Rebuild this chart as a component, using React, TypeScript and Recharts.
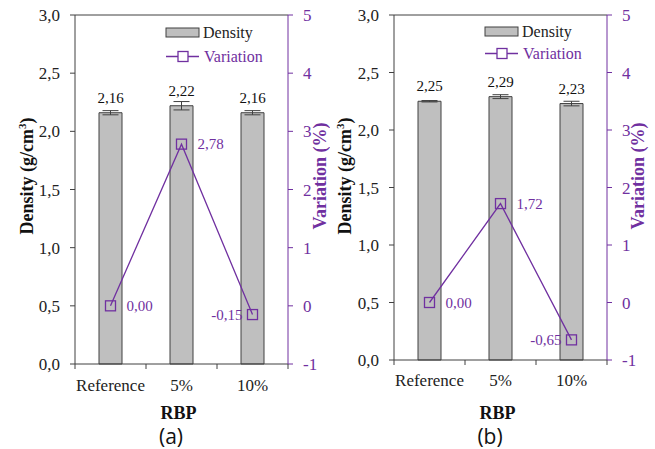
import React from 'react';
import {
  ComposedChart,
  Bar,
  Line,
  XAxis,
  YAxis,
  ErrorBar,
  LabelList,
  Legend,
  ReferenceLine,
} from 'recharts';

// categories on the x axis (RBP content)
const categories = ['Reference', '5%', '10%'];

// panel (a)
const densityA = [2.16, 2.22, 2.16];
const densityErrA = [0.018, 0.036, 0.018];
const variationA = [0.0, 2.78, -0.15];

// panel (b)
const densityB = [2.25, 2.29, 2.23];
const densityErrB = [0.006, 0.017, 0.02];
const variationB = [0.0, 1.72, -0.65];

// axis ticks
const densityTicks = [0, 0.5, 1, 1.5, 2, 2.5, 3];
const variationTicks = [-1, 0, 1, 2, 3, 4, 5];
const densityMinor = Array.from({ length: 31 }, (_, i) => i / 10);
const variationMinor = Array.from({ length: 31 }, (_, i) => -1 + i / 5);

const PURPLE = '#7030A0';
const AXIS = '#404040';
const SERIF = "'Liberation Serif', 'Times New Roman', Times, serif";
const SANS = "'Open Sans', 'DejaVu Sans', sans-serif";

const comma = (v: number, digits: number) => v.toFixed(digits).replace('.', ',');

function CategoryTick(props: any) {
  const { x, y, payload, labelDy } = props;
  const half = payload.offset ?? 35.5;
  const isLast = payload.value === categories[categories.length - 1];
  return (
    <g>
      <line x1={x - half} x2={x - half} y1={y} y2={y + 5} stroke={AXIS} />
      {isLast && <line x1={x + half} x2={x + half} y1={y} y2={y + 5} stroke={AXIS} />}
      <text x={x} y={y + labelDy} textAnchor="middle" fill="#222" style={{ fontFamily: SERIF, fontSize: 17 }}>
        {payload.value}
      </text>
    </g>
  );
}

function LegendBox({ lineGap }: { lineGap: number }) {
  return (
    <svg width={140} height={50} style={{ overflow: 'visible', fontFamily: SERIF, fontSize: 16 }}>
      <rect x={6} y={8} width={33} height={9} fill="#bfbfbf" stroke={AXIS} />
      <text x={43} y={18} fill="#222">Density</text>
      <line x1={6} x2={39} y1={12.5 + lineGap} y2={12.5 + lineGap} stroke={PURPLE} strokeWidth={1.3} />
      <rect x={18} y={7.5 + lineGap} width={10} height={10} fill="#fff" stroke={PURPLE} strokeWidth={1.3} />
      <text x={44} y={18 + lineGap} fill={PURPLE}>Variation</text>
    </svg>
  );
}

interface PanelProps {
  density: number[];
  densityErr: number[];
  variation: number[];
  width: number;
  leftW: number;
  rightW: number;
  xH: number;
  densityTitleX: number;
  variationTitleX: number;
  letter: string;
  letterX: number;
  labelDy: number;
  legendLeft: number;
  legendTop: number;
  lineGap: number;
}

function Panel(p: PanelProps) {
  const data = categories.map((name, i) => ({
    name,
    density: p.density[i],
    err: p.densityErr[i],
    variation: p.variation[i],
  }));

  const titleStyle = { fontFamily: SERIF, fontSize: 18, fontWeight: 'bold' as const };

  const densityTitle = () => (
    <text
      transform={`translate(${p.densityTitleX},176) rotate(-90)`}
      textAnchor="middle"
      dy="0.35em"
      fill="#111"
      style={titleStyle}
    >
      Density (g/cm<tspan dy={-7} style={{ fontSize: 11 }}>3</tspan>
      <tspan dy={7}>)</tspan>
    </text>
  );

  const variationTitle = () => (
    <text
      transform={`translate(${p.variationTitleX},176) rotate(-90)`}
      textAnchor="middle"
      dy="0.35em"
      fill={PURPLE}
      style={titleStyle}
    >
      Variation (%)
    </text>
  );

  const xTitle = (lp: any) => {
    const vb = lp.viewBox || {};
    const cx = vb.x + vb.width / 2 - 3;
    return (
      <g>
        <text x={cx} y={419} textAnchor="middle" fill="#111" style={titleStyle}>
          RBP
        </text>
        <text x={p.letterX} y={444} textAnchor="middle" fill="#111" style={{ fontFamily: SANS, fontSize: 21 }}>
          {p.letter}
        </text>
      </g>
    );
  };

  const variationLabel = (lp: any) => {
    const vb = lp.viewBox || {};
    const x = lp.x ?? vb.x;
    const y = lp.y ?? vb.y;
    const last = lp.index === categories.length - 1;
    return (
      <text
        x={last ? x - 10 : x + 16}
        y={y}
        dy="0.35em"
        textAnchor={last ? 'end' : 'start'}
        fill={PURPLE}
        style={{ fontFamily: SERIF, fontSize: 15 }}
      >
        {comma(Number(lp.value), 2)}
      </text>
    );
  };

  return (
    <ComposedChart
      width={p.width}
      height={449}
      data={data}
      margin={{ top: 15, right: 0, bottom: 0, left: 0 }}
      style={{ fontFamily: SERIF }}
    >
      <XAxis
        dataKey="name"
        height={p.xH}
        interval={0}
        tickSize={0}
        tickMargin={0}
        tickLine={false}
        axisLine={{ stroke: AXIS }}
        tick={<CategoryTick labelDy={p.labelDy} />}
        label={xTitle}
      />
      <YAxis
        yAxisId="d"
        orientation="left"
        width={p.leftW}
        domain={[0, 3]}
        ticks={densityTicks}
        interval={0}
        tickFormatter={(v: number) => comma(v, 1)}
        tickSize={5}
        tickMargin={10}
        axisLine={{ stroke: AXIS }}
        tickLine={{ stroke: AXIS }}
        tick={{ fill: '#222', style: { fontFamily: SERIF, fontSize: 17 } }}
        label={densityTitle}
      />
      <YAxis
        yAxisId="dm"
        orientation="left"
        mirror
        domain={[0, 3]}
        allowDataOverflow
        ticks={densityMinor}
        interval={0}
        tick={false}
        tickSize={3}
        axisLine={false}
        tickLine={{ stroke: AXIS }}
      />
      <YAxis
        yAxisId="v"
        orientation="right"
        width={p.rightW}
        domain={[-1, 5]}
        ticks={variationTicks}
        interval={0}
        tickSize={5}
        tickMargin={10}
        axisLine={{ stroke: PURPLE }}
        tickLine={{ stroke: PURPLE }}
        tick={{ fill: PURPLE, style: { fontFamily: SERIF, fontSize: 17 } }}
        label={variationTitle}
      />
      <YAxis
        yAxisId="vm"
        orientation="right"
        mirror
        domain={[-1, 5]}
        allowDataOverflow
        ticks={variationMinor}
        interval={0}
        tick={false}
        tickSize={3}
        axisLine={false}
        tickLine={{ stroke: PURPLE }}
      />
      <ReferenceLine yAxisId="d" y={3} stroke={AXIS} />
      <Legend
        layout="vertical"
        align="center"
        verticalAlign="middle"
        wrapperStyle={{ left: p.legendLeft, top: p.legendTop, width: 140, height: 50 }}
        content={() => <LegendBox lineGap={p.lineGap} />}
      />
      <Bar
        yAxisId="d"
        dataKey="density"
        name="Density"
        barSize={23}
        fill="#bfbfbf"
        stroke={AXIS}
        strokeWidth={1}
        isAnimationActive={false}
      >
        <ErrorBar dataKey="err" width={8} stroke={AXIS} strokeWidth={1} isAnimationActive={false} />
        <LabelList
          dataKey="density"
          position="top"
          offset={10}
          formatter={(v: any) => comma(Number(v), 2)}
          fill="#111"
          style={{ fontFamily: SERIF, fontSize: 15 }}
        />
      </Bar>
      <Line
        yAxisId="v"
        dataKey="variation"
        name="Variation"
        stroke={PURPLE}
        strokeWidth={1.3}
        activeDot={false}
        isAnimationActive={false}
        dot={(d: any) => (
          <rect
            key={`sq-${d.index}`}
            x={d.cx - 5}
            y={d.cy - 5}
            width={10}
            height={10}
            fill="none"
            stroke={PURPLE}
            strokeWidth={1.3}
          />
        )}
      >
        <LabelList dataKey="variation" content={variationLabel} />
      </Line>
    </ComposedChart>
  );
}

export default function App() {
  return (
    <div style={{ position: 'absolute', left: 0, top: 0, width: 655, height: 449, background: '#fff', fontFamily: SERIF }}>
      <div style={{ position: 'absolute', left: 0, top: 0 }}>
        <Panel
          density={densityA}
          densityErr={densityErrA}
          variation={variationA}
          width={330}
          leftW={75}
          rightW={42}
          xH={85}
          densityTitleX={27}
          variationTitleX={320}
          letter="(a)"
          letterX={171}
          labelDy={27}
          legendLeft={160}
          legendTop={20}
          lineGap={24}
        />
      </div>
      <div style={{ position: 'absolute', left: 330, top: 0 }}>
        <Panel
          density={densityB}
          densityErr={densityErrB}
          variation={variationB}
          width={325}
          leftW={64}
          rightW={48}
          xH={89}
          densityTitleX={15}
          variationTitleX={308}
          letter="(b)"
          letterX={160}
          labelDy={26}
          legendLeft={149}
          legendTop={19}
          lineGap={22}
        />
      </div>
    </div>
  );
}
